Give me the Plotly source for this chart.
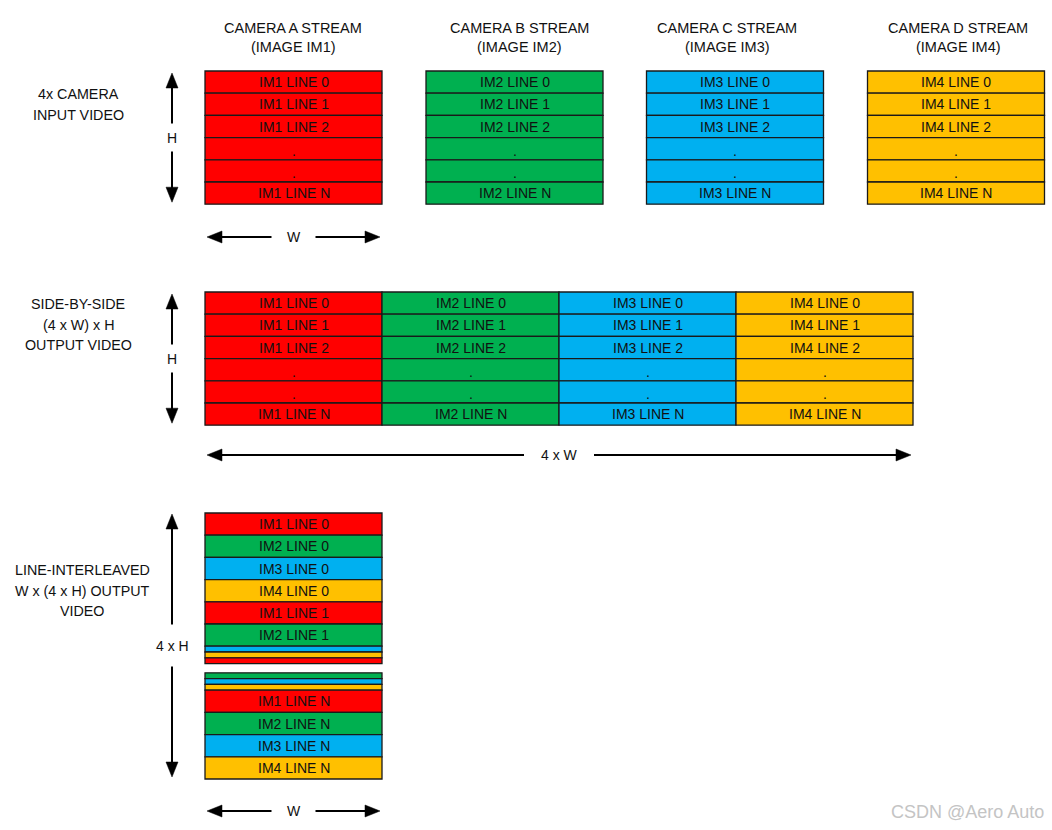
import plotly.graph_objects as go

# ---------------- data ----------------
streams = ["CAMERA A STREAM", "CAMERA B STREAM", "CAMERA C STREAM", "CAMERA D STREAM"]
images = ["IM1", "IM2", "IM3", "IM4"]
colors = ["#FF0000", "#00B050", "#00B0F0", "#FFC000"]
row_labels = ["LINE 0", "LINE 1", "LINE 2", ".", ".", "LINE N"]
interleave_top = [("IM1", "LINE 0"), ("IM2", "LINE 0"), ("IM3", "LINE 0"), ("IM4", "LINE 0"),
                  ("IM1", "LINE 1"), ("IM2", "LINE 1")]
interleave_top_thin = ["IM3", "IM4", "IM1"]
interleave_bot_thin = ["IM2", "IM3", "IM4"]
interleave_bot = [("IM1", "LINE N"), ("IM2", "LINE N"), ("IM3", "LINE N"), ("IM4", "LINE N")]
section_labels = [["4x CAMERA", "INPUT VIDEO"],
                  ["SIDE-BY-SIDE", "(4 x W) x H", "OUTPUT VIDEO"],
                  ["LINE-INTERLEAVED", "W x (4 x H) OUTPUT", "VIDEO"]]
dim_labels = ["H", "W", "H", "4 x W", "4 x H", "W"]
watermark = "CSDN @Aero Auto"

# ---------------- layout constants ----------------
W, H = 1052, 830
FONT = "Liberation Sans Narrow, Arial Narrow, Liberation Sans, Arial, sans-serif"
TXT = "#111111"
ROW_H = 22.2
BLOCK_W = 177
TOP_X = [205, 426, 646.5, 867.5]
HDR_X = [293, 519, 727, 958]
TOP_Y = 71
MID_X0, MID_Y = 205, 292
BOT_X0, BOT_Y1 = 205, 513
THIN = 5.8
BOT_Y2 = 672.8
FS = 14
LINE_SP = 20.7

cmap = dict(zip(images, colors))
shapes = []
ann = []


def rect(x0, y0, x1, y1, fill):
    shapes.append(dict(type="rect", xref="x", yref="y", x0=x0, y0=y0, x1=x1, y1=y1,
                       fillcolor=fill, line=dict(color="#1a1a1a", width=1.3), layer="below"))


def text(x, y, s, size=FS, xanchor="center"):
    ann.append(dict(x=x, y=y, xref="x", yref="y", text=s, showarrow=False,
                    font=dict(family=FONT, size=size, color=TXT), xanchor=xanchor,
                    yanchor="middle", align="center"))


def multiline(x, y_first, lines):
    for k, s in enumerate(lines):
        text(x, y_first + k * LINE_SP, s, size=14.3)


def label_row(x0, y0, img, lab):
    rect(x0, y0, x0 + BLOCK_W, y0 + ROW_H, cmap[img])
    s = lab if lab == "." else f"{img} {lab}"
    text(x0 + BLOCK_W / 2, y0 + ROW_H / 2 + (2 if lab == "." else 0), s)


def head(x, y, direction, size=(6, 15)):
    hw, ln = size
    if direction == "up":
        p = f"M {x} {y} L {x-hw} {y+ln} L {x+hw} {y+ln} Z"
    elif direction == "down":
        p = f"M {x} {y} L {x-hw} {y-ln} L {x+hw} {y-ln} Z"
    elif direction == "left":
        p = f"M {x} {y} L {x+ln} {y-hw} L {x+ln} {y+hw} Z"
    else:
        p = f"M {x} {y} L {x-ln} {y-hw} L {x-ln} {y+hw} Z"
    shapes.append(dict(type="path", xref="x", yref="y", path=p, fillcolor="black",
                       line=dict(color="black", width=0.5)))


def seg(x0, y0, x1, y1):
    shapes.append(dict(type="line", xref="x", yref="y", x0=x0, y0=y0, x1=x1, y1=y1,
                       line=dict(color="black", width=2)))


def v_arrow(x, y0, y1, label, gap=14):
    ym = (y0 + y1) / 2
    seg(x, y0 + 10, x, ym - gap)
    seg(x, ym + gap, x, y1 - 10)
    head(x, y0, "up")
    head(x, y1, "down")
    text(x, ym, label)


def h_arrow(x0, x1, y, label, gap=22):
    xm = (x0 + x1) / 2
    seg(x0 + 10, y, xm - gap, y)
    seg(xm + gap, y, x1 - 10, y)
    head(x0, y, "left")
    head(x1, y, "right")
    text(xm, y, label)


# ---------------- top: 4 camera streams ----------------
for i, img in enumerate(images):
    x0 = TOP_X[i]
    for r, lab in enumerate(row_labels):
        label_row(x0, TOP_Y + r * ROW_H, img, lab)
    text(HDR_X[i], 28, streams[i], size=14.5)
    text(HDR_X[i], 47, f"(IMAGE {img})", size=14.5)

multiline(78, 94, section_labels[0])
v_arrow(172, TOP_Y + 2, TOP_Y + 6 * ROW_H - 2, dim_labels[0])
h_arrow(207, 380, 237, dim_labels[1])

# ---------------- middle: side-by-side ----------------
for i, img in enumerate(images):
    x0 = MID_X0 + i * BLOCK_W
    for r, lab in enumerate(row_labels):
        label_row(x0, MID_Y + r * ROW_H, img, lab)

multiline(78, 304, section_labels[1])
v_arrow(172, MID_Y + 2, MID_Y + 6 * ROW_H - 2, dim_labels[2])
h_arrow(207, 911, 455, dim_labels[3], gap=35)

# ---------------- bottom: line interleaved ----------------
y = BOT_Y1
for img, lab in interleave_top:
    label_row(BOT_X0, y, img, lab)
    y += ROW_H
for img in interleave_top_thin:
    rect(BOT_X0, y, BOT_X0 + BLOCK_W, y + THIN, cmap[img])
    y += THIN
y = BOT_Y2
for img in interleave_bot_thin:
    rect(BOT_X0, y, BOT_X0 + BLOCK_W, y + THIN, cmap[img])
    y += THIN
for img, lab in interleave_bot:
    label_row(BOT_X0, y, img, lab)
    y += ROW_H

multiline(82, 570, section_labels[2])
v_arrow(172, 514, 777, dim_labels[4], gap=21)
h_arrow(207, 380, 811, dim_labels[5])

ann.append(dict(x=1046, y=812, xref="x", yref="y", text=watermark, showarrow=False,
                xanchor="right", yanchor="middle",
                font=dict(family="Liberation Sans, Arial, sans-serif", size=18, color="#c4c4c4")))

fig = go.Figure()
fig.update_layout(
    width=W, height=H, margin=dict(l=0, r=0, t=0, b=0),
    paper_bgcolor="white", plot_bgcolor="white", showlegend=False,
    xaxis=dict(range=[0, W], visible=False, fixedrange=True),
    yaxis=dict(range=[H, 0], visible=False, fixedrange=True),
    shapes=shapes, annotations=ann,
)
fig.write_html("out.html", config={"displayModeBar": False},
               post_script="document.body.style.margin='0';document.body.style.overflow='hidden';")
